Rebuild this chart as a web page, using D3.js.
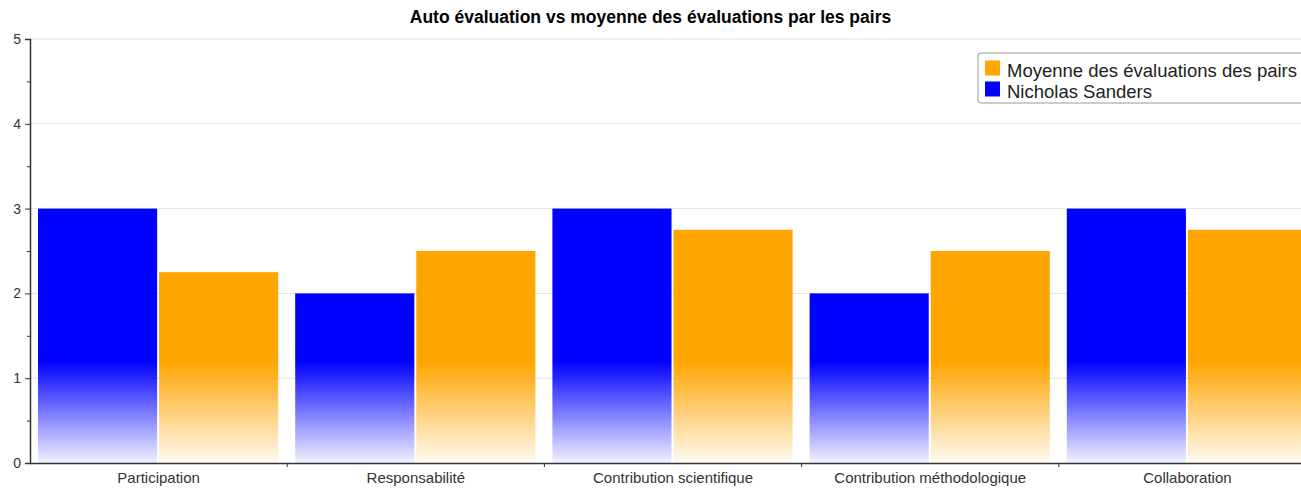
<!DOCTYPE html>
<html>
<head>
<meta charset="utf-8">
<script src="https://cdn.jsdelivr.net/npm/d3@7"></script>
<style>
  body { margin: 0; background: #fff; overflow: hidden; }
  svg { display: block; font-family: "Liberation Sans", Arial, sans-serif; }
</style>
</head>
<body>
<div id="chart"></div>
<script>
const categories = ["Participation", "Responsabilité", "Contribution scientifique", "Contribution méthodologique", "Collaboration"];
const seriesNames = ["Nicholas Sanders", "Moyenne des évaluations des pairs"];
const selfValues = [3, 2, 3, 2, 3];
const peerValues = [2.25, 2.5, 2.75, 2.5, 2.75];
const seriesColors = ["#0000ff", "#ffa500"];
const yTicks = [0, 1, 2, 3, 4, 5];
const title = "Auto évaluation vs moyenne des évaluations par les pairs";

const W = 1301, H = 489;
const margin = { top: 39, left: 30, bottom: 26 };
const plotRight = 1316; // the original chart runs past the window on the right

const svg = d3.select("#chart").append("svg")
  .attr("width", W).attr("height", H);

const x0 = d3.scaleBand().domain(categories).range([margin.left, plotRight]);
const x1 = d3.scaleBand().domain(seriesNames).range([8, x0.bandwidth() - 9]).paddingInner(0.016);
const y = d3.scaleLinear().domain([0, 5]).range([H - margin.bottom, margin.top]);

// gradients (fade to white near the bottom of the plot)
const defs = svg.append("defs");
seriesColors.forEach((c, i) => {
  const g = defs.append("linearGradient")
    .attr("id", "grad" + i)
    .attr("gradientUnits", "userSpaceOnUse")
    .attr("x1", 0).attr("x2", 0)
    .attr("y1", y(5)).attr("y2", y(0));
  g.append("stop").attr("offset", "0").attr("stop-color", c);
  g.append("stop").attr("offset", "0.76").attr("stop-color", c);
  g.append("stop").attr("offset", "1").attr("stop-color", c).attr("stop-opacity", 0.05);
});

// grid lines
svg.append("g").selectAll("line").data(yTicks.slice(1)).join("line")
  .attr("x1", margin.left).attr("x2", W)
  .attr("y1", d => y(d)).attr("y2", d => y(d))
  .attr("stroke", "#e3e3e3").attr("stroke-width", 1);

// bars
const groups = svg.append("g").selectAll("g").data(categories).join("g")
  .attr("transform", d => `translate(${x0(d)},0)`);

groups.selectAll("rect")
  .data((d, i) => [selfValues[i], peerValues[i]].map((v, k) => ({ key: seriesNames[k], v, k })))
  .join("rect")
  .attr("x", d => x1(d.key))
  .attr("width", x1.bandwidth())
  .attr("y", d => y(d.v))
  .attr("height", d => y(0) - y(d.v))
  .attr("fill", d => `url(#grad${d.k})`);

// y axis
const yAxis = svg.append("g").attr("transform", `translate(${margin.left},0)`)
  .call(d3.axisLeft(y).tickValues(yTicks).tickSize(5).tickPadding(4).tickFormat(d3.format("d")));
svg.append("g").attr("transform", `translate(${margin.left},0)`)
  .call(d3.axisLeft(y).tickValues(d3.range(0.5, 5, 1)).tickSize(3).tickFormat(""))
  .call(g => g.select(".domain").remove())
  .selectAll("line").attr("stroke", "#333");
yAxis.select(".domain").attr("stroke", "#333").attr("stroke-width", 1.5);
yAxis.selectAll(".tick line").attr("stroke", "#333");
yAxis.selectAll("text").attr("font-size", 14).attr("fill", "#333");

// x axis
const xAxis = svg.append("g").attr("transform", `translate(0,${y(0)})`)
  .call(d3.axisBottom(x0).tickSize(0).tickPadding(9));
xAxis.select(".domain").attr("stroke", "#333").attr("stroke-width", 1.5);
xAxis.selectAll("text").attr("font-size", 15).attr("fill", "#333");
svg.append("g").selectAll("line").data(categories.slice(1)).join("line")
  .attr("x1", d => x0(d)).attr("x2", d => x0(d))
  .attr("y1", y(0)).attr("y2", y(0) + 4)
  .attr("stroke", "#333");

// title
svg.append("text")
  .attr("x", W / 2).attr("y", 23)
  .attr("text-anchor", "middle")
  .attr("font-size", 17.5).attr("font-weight", "bold").attr("fill", "#000")
  .text(title);

// legend
const legend = svg.append("g").attr("transform", "translate(978,53)");
legend.append("rect")
  .attr("width", 340).attr("height", 50).attr("rx", 3)
  .attr("fill", "#fff").attr("stroke", "#999");
const legendItems = [1, 0];
legendItems.forEach((k, i) => {
  const row = legend.append("g").attr("transform", `translate(7,${7.5 + i * 21})`);
  row.append("rect").attr("width", 15).attr("height", 15).attr("fill", seriesColors[k]);
  row.append("text").attr("x", 22).attr("y", 16)
    .attr("font-size", 18.5).attr("fill", "#222")
    .text(seriesNames[k]);
});
</script>
</body>
</html>
